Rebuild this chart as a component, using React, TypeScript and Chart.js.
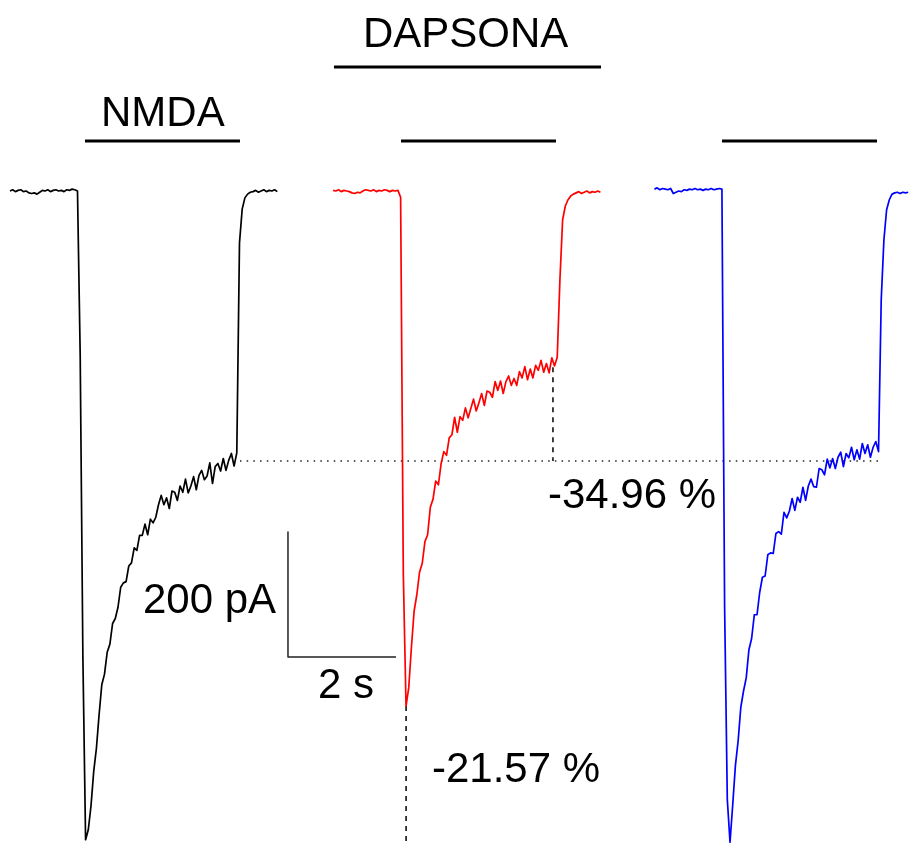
import React, { useEffect, useRef } from "react";
import { Chart, registerables } from "chart.js";

Chart.register(...registerables);

// ---- recording data (time in s, current in pA) ----
const SAMPLE_INTERVAL_S = 0.05;

const nmdaStart = 0.185;
const nmdaCurrent = [
  0, 2, -1, 1, 2, -1, 0, -3, -4, -3, -5, -2, 1, 0, 2, -1, 1, 2, 0, 1, -1, 2, 1, 3, 2, 0,
  -262, -746, -1038, -1022, -984, -929, -892, -838, -790, -773, -738, -725, -692, -684,
  -666, -634, -627, -625, -600, -595, -571, -575, -551, -551, -533, -550, -525, -531,
  -522, -502, -487, -502, -491, -508, -480, -482, -495, -472, -482, -461, -483, -472,
  -457, -478, -455, -447, -462, -456, -435, -468, -441, -436, -448, -428, -447, -431,
  -420, -440, -419, -83, -29, -11, -5, -2,
  -1, 1, -2, 0, 2, -1, 1, 0, 2, -1,
];

const dapsonaStart = 6.169;
const dapsonaCurrent = [
  1, 0, 2, -1, 1, 0, -1, -3, -4, -2, -3, 0, 2, 1, 0, 2, -1, 1, 0, 2, 1, -1, 1, 0, 1, -10,
  -613, -824, -795, -730, -672, -646, -610, -596, -561, -550, -506, -493, -464, -470,
  -436, -417, -423, -395, -390, -362, -386, -361, -367, -347, -363, -348, -333, -352,
  -339, -324, -343, -320, -322, -330, -305, -319, -304, -324, -305, -296, -311, -300,
  -311, -289, -299, -281, -302, -285, -299, -279, -287, -271, -290, -276, -291, -267,
  -280, -266, -142, -46, -24, -14, -8, -5,
  -3, -1, -4, -2, 0, -3, -1, -2, 0, -2,
];

const washStart = 12.119;
const washCurrent = [
  3, 5, 2, 4, 3, 2, 4, -4, -2, 0, -1, 2, 1, 3, 2, 4, 2, 3, 1, 3, 2, 4, 2, 3, 4, 3,
  -666, -974, -1042, -982, -919, -880, -826, -800, -779, -734, -716, -678, -678, -642,
  -618, -616, -582, -579, -580, -548, -545, -549, -514, -523, -512, -492, -511, -490,
  -498, -474, -495, -472, -461, -473, -474, -444, -446, -454, -429, -443, -428, -444,
  -426, -418, -441, -420, -427, -410, -430, -414, -429, -404, -420, -406, -426, -410,
  -401, -417, -174, -78, -30, -14, -5,
  -3, -2, -4, -2, -3, -2,
];

// drug application periods (s)
const nmdaBars = [
  [1.574, 4.444],
  [7.426, 10.296],
  [13.37, 16.241],
];
const dapsonaBar = [6.185, 11.13];

// reference levels (pA)
const controlSteadyState = -432;
const dapsonaPeak = -824;
const dapsonaSteadyState = -282;

// scale bar
const scaleBarSeconds = 2;
const scaleBarPicoamps = 200;

const labelTexts = ["NMDA", "DAPSONA", "200 pA", "2 s", "-34.96 %", "-21.57 %"];

// ---- layout (axis ranges & label anchors) ----
const X_MIN = 0;
const X_MAX = 16.852;
const Y_MIN = -1043.2;
const Y_MAX = 305.6;
const BAR_LEVEL_NMDA = 80;
const BAR_LEVEL_DAPSONA = 198.4;
const SCALE_ORIGIN = { t: 5.333, i: -745.6 };
const LABEL_ANCHORS = [
  { t: 1.87, i: 104 },
  { t: 6.722, i: 230.4 },
  { t: 2.648, i: -675.2 },
  { t: 5.889, i: -811.2 },
  { t: 10.148, i: -507.2 },
  { t: 8.0, i: -945.6 },
];

function trace(start: number, values: number[]) {
  return values.map((v, k) => ({ x: start + k * SAMPLE_INTERVAL_S, y: v }));
}

function seg(x1: number, y1: number, x2: number, y2: number) {
  return [
    { x: x1, y: y1 },
    { x: x2, y: y2 },
  ];
}

const labelPlugin = {
  id: "textLabels",
  afterDatasetsDraw(chart: any) {
    const { ctx, scales } = chart;
    const xs = scales.x;
    const ys = scales.y;
    ctx.save();
    ctx.fillStyle = "#000";
    ctx.font = '42px "Liberation Sans", Arial, sans-serif';
    ctx.textAlign = "left";
    ctx.textBaseline = "alphabetic";
    labelTexts.forEach((txt, i) => {
      const a = LABEL_ANCHORS[i];
      ctx.fillText(txt, xs.getPixelForValue(a.t), ys.getPixelForValue(a.i));
    });
    ctx.restore();
  },
};

export default function App() {
  const canvasRef = useRef<HTMLCanvasElement | null>(null);

  useEffect(() => {
    const canvas = canvasRef.current;
    if (!canvas) return;

    const lineDs = (data: any[], color: string, width: number, dash: number[] = []) => ({
      data,
      borderColor: color,
      backgroundColor: color,
      borderWidth: width,
      borderDash: dash,
      pointRadius: 0,
      tension: 0,
      fill: false,
      borderCapStyle: "butt",
      borderJoinStyle: "round",
    });

    const datasets: any[] = [
      lineDs(trace(nmdaStart, nmdaCurrent), "#000000", 1.7),
      lineDs(trace(dapsonaStart, dapsonaCurrent), "#ff0000", 1.7),
      lineDs(trace(washStart, washCurrent), "#0000ff", 1.7),
      ...nmdaBars.map((b) => lineDs(seg(b[0], BAR_LEVEL_NMDA, b[1], BAR_LEVEL_NMDA), "#000", 3)),
      lineDs(seg(dapsonaBar[0], BAR_LEVEL_DAPSONA, dapsonaBar[1], BAR_LEVEL_DAPSONA), "#000", 3),
      lineDs(
        seg(4.444, controlSteadyState, 16.3, controlSteadyState),
        "#222",
        1.3,
        [1.5, 5.2]
      ),
      lineDs(seg(10.24, dapsonaSteadyState, 10.24, controlSteadyState), "#000", 1.5, [5, 5]),
      lineDs(seg(7.52, dapsonaPeak, 7.52, Y_MIN), "#000", 1.5, [5, 5]),
      lineDs(
        [
          { x: SCALE_ORIGIN.t, y: SCALE_ORIGIN.i + scaleBarPicoamps },
          { x: SCALE_ORIGIN.t, y: SCALE_ORIGIN.i },
          { x: SCALE_ORIGIN.t + scaleBarSeconds, y: SCALE_ORIGIN.i },
        ],
        "#222",
        1.5
      ),
    ];

    const chart = new Chart(canvas, {
      type: "line",
      data: { datasets },
      options: {
        animation: false,
        responsive: false,
        maintainAspectRatio: false,
        devicePixelRatio: 1,
        layout: { padding: 0 },
        plugins: { legend: { display: false }, tooltip: { enabled: false } },
        events: [],
        scales: {
          x: { type: "linear", min: X_MIN, max: X_MAX, display: false },
          y: { type: "linear", min: Y_MIN, max: Y_MAX, display: false },
        },
      },
      plugins: [labelPlugin],
    } as any);

    return () => chart.destroy();
  }, []);

  return (
    <div
      style={{
        position: "absolute",
        left: 0,
        top: 0,
        width: 910,
        height: 843,
        background: "#fff",
      }}
    >
      <canvas ref={canvasRef} width={910} height={843} style={{ display: "block" }} />
    </div>
  );
}
